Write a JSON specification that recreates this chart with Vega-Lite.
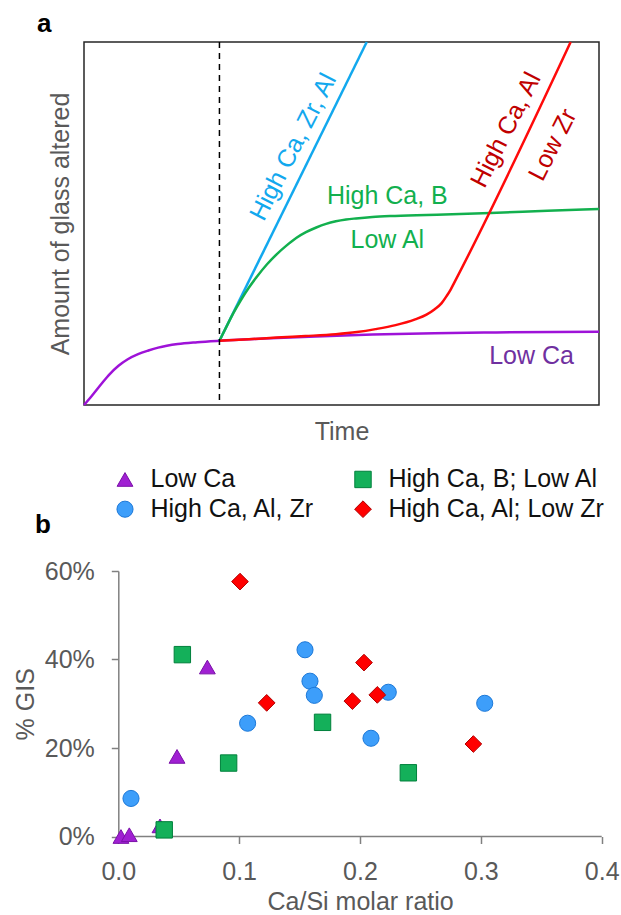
{
  "$schema": "https://vega.github.io/schema/vega-lite/v6.json",
  "background": "white",
  "padding": {"left": 13, "top": 10, "right": 0, "bottom": 0},
  "spacing": 21,
  "config": {"font": "Liberation Sans", "view": {"stroke": null}},
  "resolve": {
    "scale": {"fill": "independent", "stroke": "independent", "shape": "independent", "size": "independent"},
    "legend": {"fill": "independent", "stroke": "independent", "shape": "independent", "size": "independent"}
  },
  "datasets": {
    "curves": [
      {"series": "Low Ca", "t": 0, "v": 0},
      {"series": "Low Ca", "t": 1.5, "v": 2.5},
      {"series": "Low Ca", "t": 3.6, "v": 6.2},
      {"series": "Low Ca", "t": 5, "v": 8.5},
      {"series": "Low Ca", "t": 6.7, "v": 10.8},
      {"series": "Low Ca", "t": 8.5, "v": 12.6},
      {"series": "Low Ca", "t": 10.5, "v": 14.0},
      {"series": "Low Ca", "t": 12.5, "v": 15.0},
      {"series": "Low Ca", "t": 14.4, "v": 15.8},
      {"series": "Low Ca", "t": 18.2, "v": 16.8},
      {"series": "Low Ca", "t": 22, "v": 17.3},
      {"series": "Low Ca", "t": 26.3, "v": 17.7},
      {"series": "Low Ca", "t": 35, "v": 18.3},
      {"series": "Low Ca", "t": 45, "v": 18.9},
      {"series": "Low Ca", "t": 56, "v": 19.4},
      {"series": "Low Ca", "t": 68, "v": 19.8},
      {"series": "Low Ca", "t": 80, "v": 20.0},
      {"series": "Low Ca", "t": 100, "v": 20.2},
      {"series": "High Ca, Zr, Al", "t": 26.3, "v": 17.7},
      {"series": "High Ca, Zr, Al", "t": 54.9, "v": 100},
      {"series": "High Ca, B; Low Al", "t": 26.3, "v": 17.7},
      {"series": "High Ca, B; Low Al", "t": 27.5, "v": 21.1},
      {"series": "High Ca, B; Low Al", "t": 29, "v": 25.3},
      {"series": "High Ca, B; Low Al", "t": 30.5, "v": 29.0},
      {"series": "High Ca, B; Low Al", "t": 32, "v": 32.3},
      {"series": "High Ca, B; Low Al", "t": 33.6, "v": 35.4},
      {"series": "High Ca, B; Low Al", "t": 35.5, "v": 38.7},
      {"series": "High Ca, B; Low Al", "t": 37.4, "v": 41.5},
      {"series": "High Ca, B; Low Al", "t": 39.3, "v": 43.9},
      {"series": "High Ca, B; Low Al", "t": 41.2, "v": 46.0},
      {"series": "High Ca, B; Low Al", "t": 43.1, "v": 47.6},
      {"series": "High Ca, B; Low Al", "t": 45.1, "v": 48.9},
      {"series": "High Ca, B; Low Al", "t": 47, "v": 49.9},
      {"series": "High Ca, B; Low Al", "t": 48.9, "v": 50.6},
      {"series": "High Ca, B; Low Al", "t": 50.9, "v": 51.1},
      {"series": "High Ca, B; Low Al", "t": 52.8, "v": 51.4},
      {"series": "High Ca, B; Low Al", "t": 56, "v": 51.8},
      {"series": "High Ca, B; Low Al", "t": 60.4, "v": 52.1},
      {"series": "High Ca, B; Low Al", "t": 70, "v": 52.5},
      {"series": "High Ca, B; Low Al", "t": 78.9, "v": 52.9},
      {"series": "High Ca, B; Low Al", "t": 90, "v": 53.5},
      {"series": "High Ca, B; Low Al", "t": 100, "v": 54.0},
      {"series": "High Ca, Al; Low Zr", "t": 26.3, "v": 17.7},
      {"series": "High Ca, Al; Low Zr", "t": 32, "v": 18.1},
      {"series": "High Ca, Al; Low Zr", "t": 37.4, "v": 18.6},
      {"series": "High Ca, Al; Low Zr", "t": 43, "v": 19.0},
      {"series": "High Ca, Al; Low Zr", "t": 48.9, "v": 19.5},
      {"series": "High Ca, Al; Low Zr", "t": 53, "v": 20.1},
      {"series": "High Ca, Al; Low Zr", "t": 56.6, "v": 20.9},
      {"series": "High Ca, Al; Low Zr", "t": 60.5, "v": 22.0},
      {"series": "High Ca, Al; Low Zr", "t": 64.3, "v": 23.6},
      {"series": "High Ca, Al; Low Zr", "t": 66.5, "v": 24.9},
      {"series": "High Ca, Al; Low Zr", "t": 68.1, "v": 26.4},
      {"series": "High Ca, Al; Low Zr", "t": 69.4, "v": 28.0},
      {"series": "High Ca, Al; Low Zr", "t": 70.4, "v": 30.0},
      {"series": "High Ca, Al; Low Zr", "t": 71.2, "v": 31.8},
      {"series": "High Ca, Al; Low Zr", "t": 71.9, "v": 33.7},
      {"series": "High Ca, Al; Low Zr", "t": 94.5, "v": 100}
    ],
    "marker": [{"event": "Ca release", "t": 26.3}],
    "labelsRot": [
      {"label": "High Ca, Zr, Al", "series": "High Ca, Zr, Al", "t": 40.6, "v": 71.1},
      {"label": "High Ca, Al", "series": "High Ca, Al; Low Zr", "t": 81.9, "v": 75.8},
      {"label": "Low Zr", "series": "High Ca, Al; Low Zr", "t": 91.0, "v": 71.7}
    ],
    "labelsFlat": [
      {"label": "High Ca, B", "series": "High Ca, B; Low Al", "t": 58.9, "v": 57.5},
      {"label": "Low Al", "series": "High Ca, B; Low Al", "t": 58.9, "v": 45.4},
      {"label": "Low Ca", "series": "Low Ca", "t": 86.9, "v": 13.5}
    ],
    "points": [
      {"group": "Low Ca", "ratio": 0.0737, "gis": 0.383},
      {"group": "Low Ca", "ratio": 0.0486, "gis": 0.181},
      {"group": "Low Ca", "ratio": 0.0022, "gis": 0.0},
      {"group": "Low Ca", "ratio": 0.0091, "gis": 0.004},
      {"group": "Low Ca", "ratio": 0.0345, "gis": 0.024},
      {"group": "High Ca, Al, Zr", "ratio": 0.1545, "gis": 0.422},
      {"group": "High Ca, Al, Zr", "ratio": 0.1586, "gis": 0.351},
      {"group": "High Ca, Al, Zr", "ratio": 0.1622, "gis": 0.319},
      {"group": "High Ca, Al, Zr", "ratio": 0.2234, "gis": 0.326},
      {"group": "High Ca, Al, Zr", "ratio": 0.3032, "gis": 0.301},
      {"group": "High Ca, Al, Zr", "ratio": 0.107, "gis": 0.256},
      {"group": "High Ca, Al, Zr", "ratio": 0.2091, "gis": 0.222},
      {"group": "High Ca, Al, Zr", "ratio": 0.0105, "gis": 0.086},
      {"group": "High Ca, B; Low Al", "ratio": 0.053, "gis": 0.411},
      {"group": "High Ca, B; Low Al", "ratio": 0.169, "gis": 0.258},
      {"group": "High Ca, B; Low Al", "ratio": 0.0913, "gis": 0.166},
      {"group": "High Ca, B; Low Al", "ratio": 0.24, "gis": 0.144},
      {"group": "High Ca, B; Low Al", "ratio": 0.038, "gis": 0.015},
      {"group": "High Ca, Al; Low Zr", "ratio": 0.1007, "gis": 0.576},
      {"group": "High Ca, Al; Low Zr", "ratio": 0.1228, "gis": 0.302},
      {"group": "High Ca, Al; Low Zr", "ratio": 0.2033, "gis": 0.393},
      {"group": "High Ca, Al; Low Zr", "ratio": 0.1937, "gis": 0.306},
      {"group": "High Ca, Al; Low Zr", "ratio": 0.2143, "gis": 0.32},
      {"group": "High Ca, Al; Low Zr", "ratio": 0.2938, "gis": 0.209}
    ]
  },
  "vconcat": [
    {
      "width": 515,
      "height": 363,
      "title": {"text": "a", "anchor": "start", "frame": "group", "fontSize": 26, "fontWeight": "bold", "color": "#000000", "baseline": "alphabetic", "offset": -21, "dx": -47},
      "view": {"stroke": "#262626", "strokeWidth": 1.5},
      "encoding": {
        "x": {"field": "t", "type": "quantitative", "scale": {"domain": [0, 100], "nice": false, "zero": false},
          "axis": {"title": "Time", "labels": false, "ticks": false, "domain": false, "grid": false, "titleFontSize": 25, "titleColor": "#595959", "titleFontWeight": "normal", "titlePadding": 14}}
      },
      "layer": [
        {
          "data": {"name": "curves"},
          "mark": {"type": "line", "strokeWidth": 2.5, "interpolate": "monotone"},
          "encoding": {
            "y": {"field": "v", "type": "quantitative", "scale": {"domain": [0, 100], "nice": false},
              "axis": {"title": "Amount of glass altered", "labels": false, "ticks": false, "domain": false, "grid": false, "titleFontSize": 25, "titleColor": "#595959", "titleFontWeight": "normal", "titlePadding": 11}},
            "stroke": {"field": "series", "type": "nominal", "legend": null,
              "scale": {"domain": ["Low Ca", "High Ca, Zr, Al", "High Ca, B; Low Al", "High Ca, Al; Low Zr"], "range": ["#9E12D8", "#12A8EE", "#12B04E", "#FF0A0A"]}}
          }
        },
        {
          "data": {"name": "marker"},
          "mark": {"type": "rule", "strokeDash": [6, 5], "strokeWidth": 1.5, "color": "#000000"},
          "encoding": {}
        },
        {
          "data": {"name": "labelsRot"},
          "mark": {"type": "text", "angle": -63, "fontSize": 25, "align": "center", "baseline": "middle"},
          "encoding": {
            "y": {"field": "v", "type": "quantitative", "axis": {"title": "Amount of glass altered", "labels": false, "ticks": false, "domain": false, "grid": false, "titleFontSize": 25, "titleColor": "#595959", "titleFontWeight": "normal", "titlePadding": 11}},
            "text": {"field": "label"},
            "fill": {"field": "series", "type": "nominal", "legend": null,
              "scale": {"domain": ["Low Ca", "High Ca, Zr, Al", "High Ca, B; Low Al", "High Ca, Al; Low Zr"], "range": ["#7030A0", "#12A8EE", "#12B04E", "#C00000"]}}
          }
        },
        {
          "data": {"name": "labelsFlat"},
          "mark": {"type": "text", "fontSize": 25, "align": "center", "baseline": "middle"},
          "encoding": {
            "y": {"field": "v", "type": "quantitative", "axis": {"title": "Amount of glass altered", "labels": false, "ticks": false, "domain": false, "grid": false, "titleFontSize": 25, "titleColor": "#595959", "titleFontWeight": "normal", "titlePadding": 11}},
            "text": {"field": "label"},
            "fill": {"field": "series", "type": "nominal", "legend": null,
              "scale": {"domain": ["Low Ca", "High Ca, Zr, Al", "High Ca, B; Low Al", "High Ca, Al; Low Zr"], "range": ["#7030A0", "#12A8EE", "#12B04E", "#C00000"]}}
          }
        }
      ]
    },
    {
      "width": 517.7,
      "height": 265.5,
      "title": {"text": "b", "anchor": "start", "frame": "group", "fontSize": 26, "fontWeight": "bold", "color": "#000000", "baseline": "alphabetic", "offset": 0, "dx": -49, "dy": 92.7},
      "layer": [
        {
          "data": {"values": [{"baseline": "x axis"}]},
          "mark": {"type": "rule", "color": "#808080", "strokeWidth": 1.5},
          "encoding": {
            "x": {"datum": 0, "type": "quantitative"},
            "x2": {"datum": 0.4},
            "y": {"datum": 0, "type": "quantitative"}
          }
        },
        {
          "data": {"name": "points"},
          "mark": {"type": "point", "filled": true, "opacity": 1, "strokeWidth": 1},
          "encoding": {
            "x": {"field": "ratio", "type": "quantitative", "scale": {"domain": [-0.02838, 0.4], "nice": false, "zero": false},
              "axis": {"title": "Ca/Si molar ratio", "titleX": 276.1, "values": [0, 0.1, 0.2, 0.3, 0.4], "format": ".1f", "grid": false, "domain": false, "tickColor": "#808080", "tickWidth": 1.5, "tickSize": 7, "labelFontSize": 25, "labelColor": "#595959", "labelPadding": 16, "labelFlush": false, "labelOverlap": false, "titleFontSize": 25, "titleColor": "#595959", "titleFontWeight": "normal", "titlePadding": 5}},
            "y": {"field": "gis", "type": "quantitative", "scale": {"domain": [0, 0.6], "nice": false},
              "axis": {"title": "% GIS", "offset": -34.3, "values": [0, 0.2, 0.4, 0.6], "format": ".0%", "grid": false, "domainColor": "#808080", "domainWidth": 1.5, "tickColor": "#808080", "tickWidth": 1.5, "tickSize": 7, "labelFontSize": 25, "labelColor": "#595959", "labelPadding": 17, "labelFlush": false, "labelOverlap": false, "titleFontSize": 25, "titleColor": "#595959", "titleFontWeight": "normal", "titlePadding": 6}},
            "shape": {"field": "group", "type": "nominal",
              "scale": {"domain": ["Low Ca", "High Ca, Al, Zr", "High Ca, B; Low Al", "High Ca, Al; Low Zr"], "range": ["triangle-up", "circle", "square", "diamond"]},
              "legend": {"title": null, "orient": "none", "legendX": 28.5, "legendY": -104.3, "columns": 2, "padding": 0, "columnPadding": 36, "rowPadding": 4, "labelOffset": 13, "labelFontSize": 25, "labelColor": "#111111", "labelLimit": 400, "symbolStrokeWidth": 1}},
            "fill": {"field": "group", "type": "nominal",
              "scale": {"domain": ["Low Ca", "High Ca, Al, Zr", "High Ca, B; Low Al", "High Ca, Al; Low Zr"], "range": ["#A020D2", "#3D9EFA", "#14B05A", "#FF0000"]},
              "legend": {"title": null, "orient": "none", "legendX": 28.5, "legendY": -104.3, "columns": 2, "padding": 0, "columnPadding": 36, "rowPadding": 4, "labelOffset": 13, "labelFontSize": 25, "labelColor": "#111111", "labelLimit": 400, "symbolStrokeWidth": 1}},
            "stroke": {"field": "group", "type": "nominal",
              "scale": {"domain": ["Low Ca", "High Ca, Al, Zr", "High Ca, B; Low Al", "High Ca, Al; Low Zr"], "range": ["#7A10A8", "#1C78D8", "#00803C", "#B00000"]},
              "legend": {"title": null, "orient": "none", "legendX": 28.5, "legendY": -104.3, "columns": 2, "padding": 0, "columnPadding": 36, "rowPadding": 4, "labelOffset": 13, "labelFontSize": 25, "labelColor": "#111111", "labelLimit": 400, "symbolStrokeWidth": 1}},
            "size": {"field": "group", "type": "nominal",
              "scale": {"domain": ["Low Ca", "High Ca, Al, Zr", "High Ca, B; Low Al", "High Ca, Al; Low Zr"], "range": [250, 279, 246, 216]},
              "legend": {"title": null, "orient": "none", "legendX": 28.5, "legendY": -104.3, "columns": 2, "padding": 0, "columnPadding": 36, "rowPadding": 4, "labelOffset": 13, "labelFontSize": 25, "labelColor": "#111111", "labelLimit": 400, "symbolStrokeWidth": 1}}
          }
        }
      ]
    }
  ]
}
